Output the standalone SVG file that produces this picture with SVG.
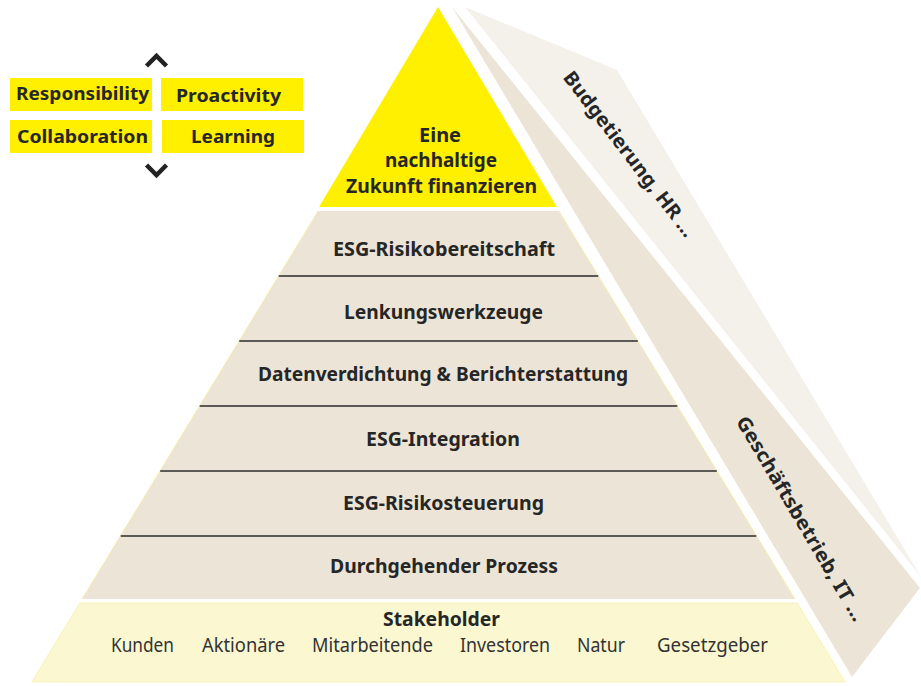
<svg xmlns="http://www.w3.org/2000/svg" width="921" height="686" viewBox="0 0 921 686">
<style>
.b{font-family:"Noto Sans","DejaVu Sans",sans-serif;font-weight:700;fill:#262626;font-size:19.5px;text-anchor:middle}
.r{font-family:"Noto Sans","DejaVu Sans",sans-serif;font-weight:400;fill:#333;font-size:19px;text-anchor:middle}
.v{font-family:"Noto Sans","DejaVu Sans",sans-serif;font-weight:700;fill:#262626;font-size:18.5px}
.ln{stroke:#2b2b2b;stroke-width:1.3}
.chev{fill:none;stroke:#222;stroke-width:4.5}
</style>
<rect width="921" height="686" fill="#fff"/>
<g id="side-light">
<polygon points="465,7 617,70 921,577" fill="#f4f0ea"/>
<text class="b" transform="translate(624,158) rotate(52.5)" textLength="203" lengthAdjust="spacingAndGlyphs">Budgetierung, HR ...</text>
</g>
<g id="side-band">
<polygon points="452,7 920,588 852,677" fill="#ece5d7"/>
<text class="b" transform="translate(795,522) rotate(59.5)" textLength="234" lengthAdjust="spacingAndGlyphs">Geschäftsbetrieb, IT ...</text>
</g>
<g id="apex">
<polygon points="438,7 557,207 319,207" fill="#fff000"/>
<text class="b" x="440" y="142" textLength="42" lengthAdjust="spacingAndGlyphs">Eine</text>
<text class="b" x="441" y="167" textLength="112" lengthAdjust="spacingAndGlyphs">nachhaltige</text>
<text class="b" x="441.5" y="193" textLength="191" lengthAdjust="spacingAndGlyphs">Zukunft finanzieren</text>
</g>
<g id="layers">
<polygon points="318.2,211 558.8,211 794.9,599 82.1,599" fill="#ece5d7"/>
<polyline points="318.2,211 82.1,599" fill="none" stroke="#f4ee9e" stroke-width="0.8"/>
<polyline points="558.8,211 794.9,599" fill="none" stroke="#f4ee9e" stroke-width="0.8"/>
</g>
<g id="connectors">
<line class="ln" x1="278.7" y1="276" x2="598.3" y2="276"/>
<line class="ln" x1="239.2" y1="341" x2="637.8" y2="341"/>
<line class="ln" x1="199.7" y1="406" x2="677.3" y2="406"/>
<line class="ln" x1="160.2" y1="471" x2="716.8" y2="471"/>
<line class="ln" x1="120.7" y1="536" x2="756.3" y2="536"/>
</g>
<g id="layer-1"><text class="b" x="444" y="256" textLength="222" lengthAdjust="spacingAndGlyphs">ESG-Risikobereitschaft</text></g>
<g id="layer-2"><text class="b" x="443.5" y="319" textLength="199" lengthAdjust="spacingAndGlyphs">Lenkungswerkzeuge</text></g>
<g id="layer-3"><text class="b" x="443" y="381" textLength="370" lengthAdjust="spacingAndGlyphs">Datenverdichtung &amp; Berichterstattung</text></g>
<g id="layer-4"><text class="b" x="443" y="446" textLength="154" lengthAdjust="spacingAndGlyphs">ESG-Integration</text></g>
<g id="layer-5"><text class="b" x="443.5" y="510" textLength="201" lengthAdjust="spacingAndGlyphs">ESG-Risikosteuerung</text></g>
<g id="layer-6"><text class="b" x="444" y="573" textLength="228" lengthAdjust="spacingAndGlyphs">Durchgehender Prozess</text></g>
<g id="stakeholder">
<polygon points="79.7,603 797.3,603 845.3,682 31.7,682" fill="#faf7d1" stroke="#f4ee9e" stroke-width="0.6"/>
<text class="b" x="441.5" y="626" textLength="117" lengthAdjust="spacingAndGlyphs">Stakeholder</text>
<text class="r" x="142.5" y="652" textLength="63" lengthAdjust="spacingAndGlyphs">Kunden</text>
<text class="r" x="243.5" y="652" textLength="83" lengthAdjust="spacingAndGlyphs">Aktionäre</text>
<text class="r" x="372.5" y="652" textLength="121" lengthAdjust="spacingAndGlyphs">Mitarbeitende</text>
<text class="r" x="505" y="652" textLength="90" lengthAdjust="spacingAndGlyphs">Investoren</text>
<text class="r" x="601" y="652" textLength="48" lengthAdjust="spacingAndGlyphs">Natur</text>
<text class="r" x="712.5" y="652" textLength="111" lengthAdjust="spacingAndGlyphs">Gesetzgeber</text>
</g>
<g id="values">
<polyline class="chev" points="146.5,66 156.5,56 166.5,66"/>
<polyline class="chev" points="146.5,165 156.5,175 166.5,165"/>
<rect x="10" y="78" width="142" height="33" fill="#fff000"/>
<rect x="161" y="78" width="142" height="33" fill="#fff000"/>
<rect x="10" y="120" width="142" height="33" fill="#fff000"/>
<rect x="162" y="120" width="142" height="33" fill="#fff000"/>
<text class="v" x="16" y="100" textLength="133" lengthAdjust="spacingAndGlyphs">Responsibility</text>
<text class="v" x="176" y="102" textLength="105" lengthAdjust="spacingAndGlyphs">Proactivity</text>
<text class="v" x="17" y="143" textLength="131" lengthAdjust="spacingAndGlyphs">Collaboration</text>
<text class="v" x="191" y="143" textLength="84" lengthAdjust="spacingAndGlyphs">Learning</text>
</g>
</svg>
